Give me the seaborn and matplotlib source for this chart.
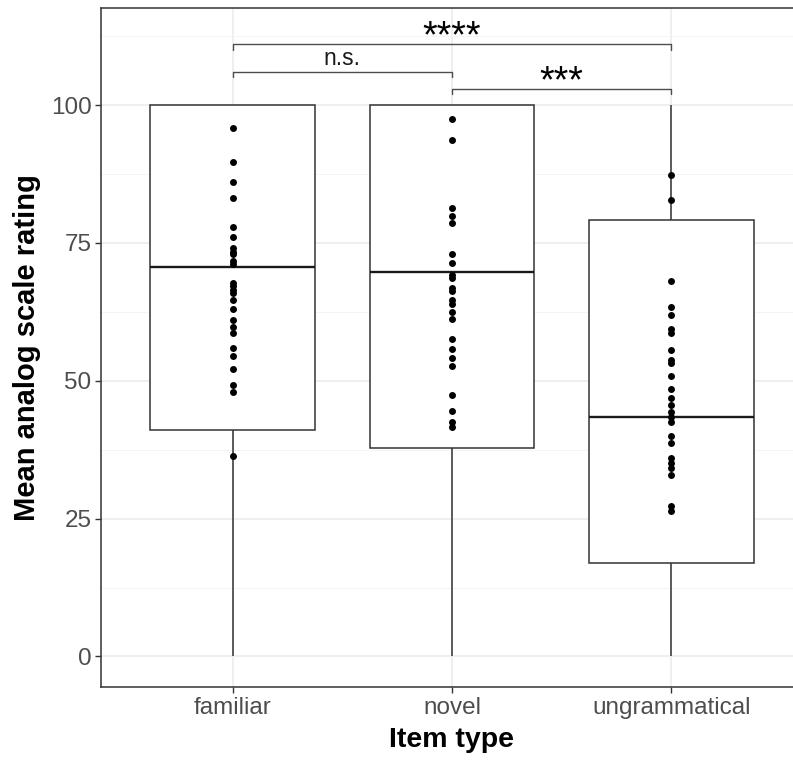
import matplotlib
matplotlib.use("Agg")
import numpy as np
import pandas as pd
import seaborn as sns
import matplotlib.pyplot as plt
from matplotlib.ticker import MultipleLocator

# ---------------- data ----------------
categories = ["familiar", "novel", "ungrammatical"]

# box statistics (whisker low, Q1, median, Q3, whisker high)
box_low = [0, 0, 0]
box_q1 = [41.1, 37.8, 17.0]
box_median = [70.6, 69.7, 43.5]
box_q3 = [100, 100, 79.1]
box_high = [100, 100, 100]

# per-participant mean ratings (points)
familiar_means = [95.8, 89.6, 86.0, 83.2, 77.8, 76.1, 74.0, 73.4, 72.9, 71.7, 71.1,
                  67.7, 67.1, 66.5, 65.9, 64.7, 63.1, 61.0, 59.8, 58.6, 55.9, 54.4,
                  52.1, 49.2, 48.0, 36.4]
novel_means = [97.5, 93.7, 81.3, 79.9, 78.6, 73.0, 71.3, 69.2, 68.6, 66.8, 66.2,
               64.7, 63.9, 62.5, 61.2, 57.5, 55.7, 54.2, 52.7, 47.4, 44.6, 42.6, 41.6]
ungrammatical_means = [87.4, 82.8, 68.0, 63.3, 61.9, 59.4, 58.6, 55.6, 53.8, 53.2,
                       50.8, 48.5, 46.9, 45.6, 44.4, 43.5, 42.6, 39.9, 38.7, 36.0,
                       35.1, 34.1, 32.9, 27.2, 26.4]

y_ticks = [0, 25, 50, 75, 100]

# significance comparisons
comp_left = ["familiar", "familiar", "novel"]
comp_right = ["ungrammatical", "novel", "ungrammatical"]
comp_label = ["****", "n.s.", "***"]
comp_height = [111.0, 106.0, 103.0]

# ---------------- frames ----------------
box_rows = []
for c, lo, q1, md, q3, hi in zip(categories, box_low, box_q1, box_median, box_q3, box_high):
    for v in (lo, q1, md, q3, hi):
        box_rows.append({"item": c, "rating": v})
box_df = pd.DataFrame(box_rows)

pts_df = pd.DataFrame(
    [{"item": "familiar", "rating": v} for v in familiar_means]
    + [{"item": "novel", "rating": v} for v in novel_means]
    + [{"item": "ungrammatical", "rating": v} for v in ungrammatical_means]
)

# ---------------- style ----------------
sns.set_theme(style="white")
plt.rcParams["font.family"] = ["Liberation Sans", "DejaVu Sans"]

W, H = 793, 762
fig = plt.figure(figsize=(W / 100, H / 100), dpi=100)
ax = fig.add_axes([101 / W, 74.7 / H, 702 / W, 679.3 / H])

edge = "#333333"
sns.boxplot(data=box_df, x="item", y="rating", order=categories, whis=(0, 100),
            width=0.75, color="white", saturation=1, linecolor=edge, linewidth=1.1,
            showcaps=False, fliersize=0,
            medianprops={"linewidth": 1.7, "color": "#1a1a1a"}, ax=ax)
sns.stripplot(data=pts_df, x="item", y="rating", order=categories, jitter=False,
              color="black", size=5.0, linewidth=0, ax=ax, zorder=5)

ax.set_xlim(-0.6, 2.6)
ax.set_ylim(-5.6, 117.6)
ax.set_yticks(y_ticks)
ax.yaxis.set_minor_locator(MultipleLocator(12.5))
ax.set_axisbelow(True)
ax.grid(True, which="major", axis="both", color="#EBEBEB", linewidth=1.1)
ax.grid(True, which="minor", axis="y", color="#F2F2F2", linewidth=0.6)

for s in ax.spines.values():
    s.set_color(edge)
    s.set_linewidth(1.1)
    s.set_visible(True)

ax.tick_params(axis="both", which="major", length=4.3, width=1.0, color=edge,
               labelcolor="#4D4D4D", labelsize=17.5, pad=2.5, direction="out",
               bottom=True, left=True)
ax.tick_params(axis="y", which="minor", length=0)

ax.set_xlabel("Item type", fontsize=20.5, fontweight="bold", color="black", labelpad=6)
ax.set_ylabel("Mean analog scale rating", fontsize=21, fontweight="bold",
              color="black", labelpad=7)

# significance brackets
pos = {c: i for i, c in enumerate(categories)}
tip = 1.0
for l, r, lab, h in zip(comp_left, comp_right, comp_label, comp_height):
    x1, x2 = pos[l], pos[r]
    ax.plot([x1, x1, x2, x2], [h - tip, h, h, h - tip], color="#4D4D4D",
            linewidth=1.0, clip_on=False, zorder=6)
    if lab.startswith("*"):
        ax.text((x1 + x2) / 2, h - 0.6, lab, ha="center", va="baseline",
                fontsize=27, color="black")
    else:
        ax.text((x1 + x2) / 2, h + 0.4, lab, ha="center", va="bottom",
                fontsize=16.5, color="#1a1a1a")

fig.savefig("out.png", dpi=100)
